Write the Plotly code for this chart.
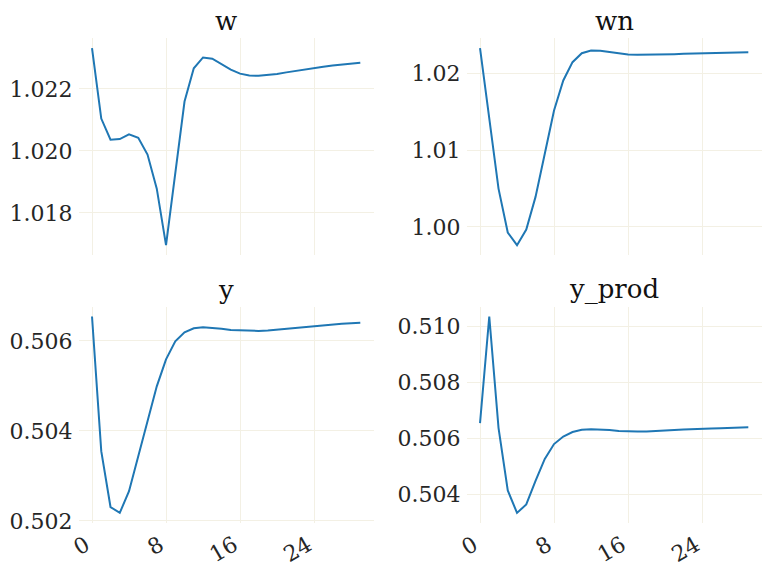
import plotly.graph_objects as go

t = list(range(30))

w = [1.02331, 1.02104, 1.02036, 1.02038, 1.02053, 1.02042, 1.01988, 1.01878, 1.01696, 1.01935,
     1.02159, 1.02266, 1.02301, 1.02297, 1.02280, 1.02262, 1.02249, 1.02243, 1.02242, 1.02244,
     1.02248, 1.02253, 1.02258, 1.02263, 1.02267, 1.02271, 1.02275, 1.02278, 1.02281, 1.02284]

wn = [1.02325, 1.01429, 1.00498, 0.99926, 0.99762, 0.99965, 1.00390, 1.00952, 1.01515, 1.01905,
      1.02143, 1.02260, 1.02294, 1.02290, 1.02273, 1.02255, 1.02242, 1.02238, 1.02238, 1.02240,
      1.02243, 1.02247, 1.02251, 1.02255, 1.02258, 1.02262, 1.02265, 1.02268, 1.02270, 1.02273]

y = [0.50654, 0.50355, 0.50231, 0.50218, 0.50266, 0.50344, 0.50425, 0.50499, 0.50559, 0.50599,
     0.50619, 0.50628, 0.50630, 0.50629, 0.50627, 0.50624, 0.50623, 0.50622, 0.50622, 0.50623,
     0.50625, 0.50627, 0.50629, 0.50631, 0.50633, 0.50635, 0.50636, 0.50638, 0.50639, 0.50640]

y_prod = [0.50655, 0.51036, 0.50638, 0.50414, 0.50334, 0.50364, 0.50448, 0.50527, 0.50580, 0.50607,
          0.50623, 0.50631, 0.50633, 0.50632, 0.50630, 0.50627, 0.50625, 0.50625, 0.50625, 0.50626,
          0.50628, 0.50630, 0.50632, 0.50634, 0.50635, 0.50636, 0.50637, 0.50638, 0.50639, 0.50640]

titles = ["w", "wn", "y", "y_prod"]
series = [w, wn, y, y_prod]
ytick_dtick = [0.002, 0.01, 0.002, 0.002]
ytick_fmt = [".3f", ".2f", ".3f", ".3f"]
xticks = [0, 8, 16, 24]

FONT = "DejaVu Serif"
GRID = "#f3f0e4"
TXT = "#262626"
LINE = "#1f77b4"

xdom = [[0.1018, 0.4841], [0.6044, 0.9867]]
ydom = [[0.5542, 0.9330], [0.0862, 0.4638]]

def padded(vals, frac=0.05):
    lo, hi = min(vals), max(vals)
    p = (hi - lo) * frac
    return [lo - p, hi + p]

fig = go.Figure()
layout = {}
annotations = []
for i, (name, vals) in enumerate(zip(titles, series)):
    r, c = divmod(i, 2)
    n = i + 1
    xa = "x" if n == 1 else f"x{n}"
    ya = "y" if n == 1 else f"y{n}"
    fig.add_trace(go.Scatter(x=t, y=vals, mode="lines", line=dict(color=LINE, width=2),
                             xaxis=xa, yaxis=ya, showlegend=False))
    xkey = "xaxis" if n == 1 else f"xaxis{n}"
    ykey = "yaxis" if n == 1 else f"yaxis{n}"
    layout[xkey] = dict(domain=xdom[c], anchor=ya, range=padded(t), tickmode="array",
                        tickvals=xticks, ticktext=[str(v) + "\u00a0" for v in xticks],
                        showticklabels=(r == 1), tickangle=-30, showgrid=True, gridcolor=GRID,
                        gridwidth=1, zeroline=False, showline=False, ticks="",
                        ticklabelstandoff=1, automargin=False,
                        tickfont=dict(family=FONT, size=22, color=TXT))
    layout[ykey] = dict(domain=ydom[r], anchor=xa, range=padded(vals), dtick=ytick_dtick[i],
                        tick0=0, tickformat=ytick_fmt[i], showgrid=True, gridcolor=GRID, gridwidth=1,
                        zeroline=False, showline=False, ticks="", ticklabelstandoff=5,
                        automargin=False,
                        tickfont=dict(family=FONT, size=22, color=TXT))
    annotations.append(dict(text=name, xref="paper", yref="paper",
                            x=(xdom[c][0] + xdom[c][1]) / 2, y=ydom[r][1],
                            xanchor="center", yanchor="bottom", yshift=0, showarrow=False,
                            font=dict(family=FONT, size=26, color="#111111")))

fig.update_layout(**layout)
fig.update_layout(width=772, height=572, margin=dict(l=0, r=0, t=0, b=0, autoexpand=False),
                  paper_bgcolor="white", plot_bgcolor="white", annotations=annotations,
                  font=dict(family=FONT))
fig.write_html("out.html")
